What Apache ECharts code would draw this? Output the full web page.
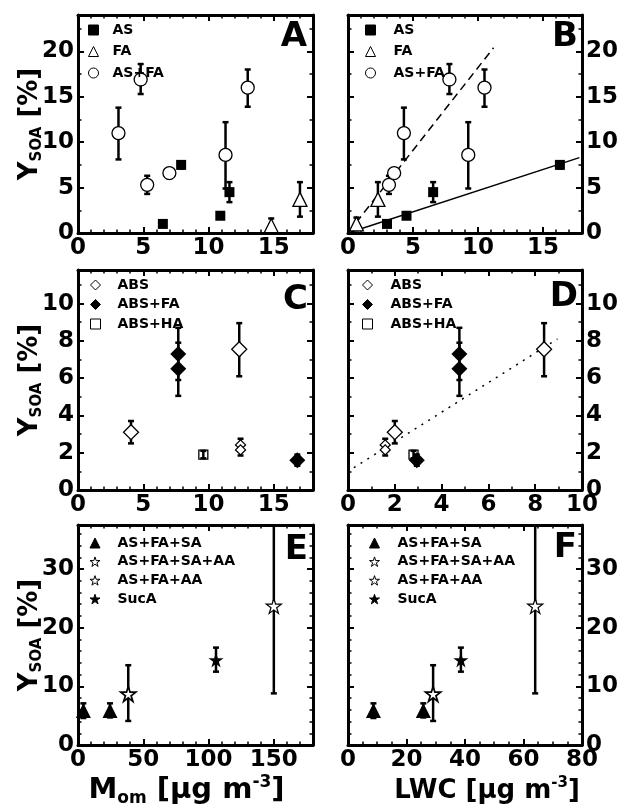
<!DOCTYPE html>
<html>
<head>
<meta charset="utf-8">
<script src="https://cdn.jsdelivr.net/npm/echarts@6/dist/echarts.min.js"></script>
<style>html,body{margin:0;padding:0;background:#fff}#chart{width:621px;height:811px}</style>
</head>
<body>
<div id="chart"></div>
<script>
// every point: [x, y, yLow, yHigh]   (y = Y_SOA in %)
// A: x = M_om
const asA = [[6.5, 1.0, 0.8, 1.2], [7.9, 7.5, 7.1, 7.9], [10.9, 1.9, 1.6, 2.2], [11.6, 4.5, 3.4, 5.6]];
const faA = [[14.8, 0.8, 0.1, 1.6], [17.0, 3.7, 1.8, 5.6]];
const asfaA = [[3.1, 11.0, 8.1, 13.8], [4.8, 16.9, 15.3, 18.6], [5.3, 5.3, 4.3, 6.3], [7.0, 6.6, 6.0, 7.1], [11.3, 8.6, 4.9, 12.2], [13.0, 16.0, 13.9, 18.0]];
// B: x = LWC
const asB = [[3.0, 1.0, 0.8, 1.2], [4.5, 1.9, 1.6, 2.2], [6.55, 4.5, 3.4, 5.6], [16.3, 7.5, 7.1, 7.9]];
const faB = [[0.65, 1.0, 0.3, 1.7], [2.3, 3.7, 1.8, 5.6]];
const asfaB = [[4.3, 11.0, 8.1, 13.8], [7.8, 16.9, 15.3, 18.6], [3.15, 5.3, 4.3, 6.3], [3.55, 6.6, 6.0, 7.1], [9.25, 8.6, 4.9, 12.2], [10.5, 16.0, 13.9, 18.0]];
const asFitB = [[0, 0], [17.8, 8.3]];
const asfaFitB = [[0, 0], [11.2, 20.4]];
// C: x = M_om
const absC = [[4.06, 3.1, 2.5, 3.7], [12.35, 7.55, 6.1, 8.95], [12.45, 2.42, 2.1, 2.75], [12.45, 2.15, 1.85, 2.45]];
const absfaC = [[7.68, 7.3, 5.9, 8.7], [7.68, 6.5, 5.05, 7.9], [16.8, 1.6, 1.3, 1.9]];
const abshaC = [[9.6, 1.9, 1.7, 2.1]];
// D: x = LWC
const absD = [[2.0, 3.1, 2.5, 3.7], [8.38, 7.55, 6.1, 8.95], [1.59, 2.42, 2.1, 2.75], [1.59, 2.15, 1.85, 2.45]];
const absfaD = [[4.76, 7.3, 5.9, 8.7], [4.76, 6.5, 5.05, 7.9], [2.94, 1.6, 1.3, 1.9]];
const abshaD = [[2.8, 1.9, 1.7, 2.1]];
const absFitD = [[0.25, 1.2], [8.95, 8.1]];
// E: x = M_om
const sasE = [[4.1, 5.9, 4.6, 7.1], [24.5, 5.9, 4.7, 7.1]];
const sasaaE = [[150, 23.7, 8.8, 38.6]];
const aaE = [[38.5, 8.7, 4.1, 13.6]];
const sucE = [[105.7, 14.5, 12.5, 16.6]];
// F: x = LWC
const sasF = [[8.7, 5.9, 4.6, 7.1], [25.75, 5.9, 4.7, 7.1]];
const sasaaF = [[64, 23.7, 8.8, 38.6]];
const aaF = [[29.1, 8.7, 4.1, 13.6]];
const sucF = [[38.6, 14.5, 12.5, 16.6]];

const legendAB = ['AS', 'FA', 'AS+FA'];
const legendCD = ['ABS', 'ABS+FA', 'ABS+HA'];
const legendEF = ['AS+FA+SA', 'AS+FA+SA+AA', 'AS+FA+AA', 'SucA'];

const font = 'DejaVu Sans';
const star = 'path://M50,0L61.2,34.6L97.6,34.5L68.1,55.9L79.4,90.5L50,69L20.6,90.5L31.9,55.9L2.4,34.5L38.8,34.6Z';

const grids = [
  {left: 78, top: 15, width: 235, height: 218},
  {left: 348, top: 15, width: 239, height: 218},
  {left: 78, top: 270, width: 235, height: 220},
  {left: 348, top: 270, width: 239, height: 220},
  {left: 78, top: 525, width: 235, height: 220},
  {left: 348, top: 525, width: 239, height: 220}
];

const lineAxis = {onZero: false, lineStyle: {color: '#000', width: 3}};
const tick = {inside: true, length: 6, lineStyle: {color: '#000', width: 2}};
const lbl = {color: '#000', fontFamily: font, fontWeight: 'bold', fontSize: 23};

function axisPair(g, min, max, interval, minor, hideMax, mainPos, otherPos) {
  const base = {
    type: 'value', gridIndex: g, min: min, max: max, interval: interval,
    axisLine: lineAxis, axisTick: tick,
    minorTick: {show: true, splitNumber: minor, length: 3.5, lineStyle: {color: '#000', width: 1.5}},
    splitLine: {show: false}
  };
  return [
    Object.assign({}, base, {position: mainPos, axisLabel: Object.assign({margin: 4, showMaxLabel: hideMax ? false : null}, lbl)}),
    Object.assign({}, base, {position: otherPos, axisLabel: {show: false}})
  ];
}

const xAxis = [].concat(
  axisPair(0, 0, 18, 5, 5, true, 'bottom', 'top'),
  axisPair(1, 0, 18, 5, 5, true, 'bottom', 'top'),
  axisPair(2, 0, 18, 5, 5, true, 'bottom', 'top'),
  axisPair(3, 0, 10, 2, 2, false, 'bottom', 'top'),
  axisPair(4, 0, 180, 50, 5, true, 'bottom', 'top'),
  axisPair(5, 0, 80, 20, 4, false, 'bottom', 'top')
);
const yAxis = [].concat(
  axisPair(0, 0, 24, 5, 2, true, 'left', 'right'),
  axisPair(1, 0, 24, 5, 2, true, 'right', 'left'),
  axisPair(2, 0, 11.8, 2, 2, true, 'left', 'right'),
  axisPair(3, 0, 11.8, 2, 2, true, 'right', 'left'),
  axisPair(4, 0, 37.5, 10, 5, true, 'left', 'right'),
  axisPair(5, 0, 37.5, 10, 5, true, 'right', 'left')
);

function rich(big, small) {
  const base = {fontFamily: font, fontWeight: 'bold', color: '#000'};
  return {
    t: Object.assign({fontSize: big, lineHeight: big + 4}, base),
    s: Object.assign({fontSize: small, lineHeight: 6, verticalAlign: 'bottom'}, base),
    o: Object.assign({fontSize: small, lineHeight: 10, verticalAlign: 'bottom'}, base),
    p: Object.assign({fontSize: small, lineHeight: big * 0.75, verticalAlign: 'top'}, base)
  };
}
[0, 2, 4].forEach(i => {
  Object.assign(yAxis[i * 2], {
    name: '{t|Y}{s|SOA}{t| [%]}', nameLocation: 'middle', nameGap: 33, nameRotate: 90,
    nameMoveOverlap: false,
    nameTextStyle: {rich: rich(26, 15)}
  });
});
Object.assign(xAxis[8], {
  name: '{t|M}{o|om}{t| [µg m}{p|-3}{t|]}', nameLocation: 'middle', nameGap: 29,
  nameTextStyle: {rich: rich(29, 17), padding: [0, 18, 0, 0]}
});
Object.assign(xAxis[10], {
  name: '{t|LWC [µg m}{p|-3}{t|]}', nameLocation: 'middle', nameGap: 31,
  nameTextStyle: {rich: rich(26, 15), padding: [0, 0, 0, 44]}
});

function pts(name, data, g, symbol, size, fill, bw) {
  return {
    name: name, type: 'scatter', xAxisIndex: g * 2, yAxisIndex: g * 2, z: 3,
    symbol: symbol, symbolSize: size,
    itemStyle: {color: fill, borderColor: '#000', borderWidth: bw, opacity: 1},
    data: data.map(d => [d[0], d[1]])
  };
}

function bars(data, g) {
  return {
    type: 'custom', xAxisIndex: g * 2, yAxisIndex: g * 2, z: 2, clip: true, silent: true,
    data: data.map(d => [d[0], d[2], d[3]]),
    renderItem: function (params, api) {
      const hi = api.coord([api.value(0), api.value(2)]);
      const lo = api.coord([api.value(0), api.value(1)]);
      const st = {stroke: '#000', lineWidth: 2.5};
      return {type: 'group', children: [
        {type: 'line', shape: {x1: hi[0], y1: hi[1], x2: lo[0], y2: lo[1]}, style: st},
        {type: 'line', shape: {x1: hi[0] - 3, y1: hi[1], x2: hi[0] + 3, y2: hi[1]}, style: st},
        {type: 'line', shape: {x1: lo[0] - 3, y1: lo[1], x2: lo[0] + 3, y2: lo[1]}, style: st}
      ]};
    }
  };
}

function fit(data, g, type) {
  return {
    type: 'line', xAxisIndex: g * 2, yAxisIndex: g * 2, z: 2, showSymbol: false, silent: true,
    lineStyle: {color: '#000', width: 1.5, type: type}, data: data
  };
}

const absSize = v => (v[1] < 2.6 ? 10 : 15);

const series = [
  bars(asA, 0), bars(faA, 0), bars(asfaA, 0),
  pts('AS', asA, 0, 'rect', 10, '#000', 0),
  pts('FA', faA, 0, 'triangle', 14, '#fff', 1.3),
  pts('AS+FA', asfaA, 0, 'circle', 13, '#fff', 1.3),

  fit(asFitB, 1, 'solid'), fit(asfaFitB, 1, [8, 5]),
  bars(asB, 1), bars(faB, 1), bars(asfaB, 1),
  pts('AS', asB, 1, 'rect', 10, '#000', 0),
  pts('FA', faB, 1, 'triangle', 14, '#fff', 1.3),
  pts('AS+FA', asfaB, 1, 'circle', 13, '#fff', 1.3),

  bars(absC, 2), bars(absfaC, 2), bars(abshaC, 2),
  pts('ABS', absC, 2, 'diamond', absSize, '#fff', 1.3),
  pts('ABS+FA', absfaC, 2, 'diamond', 16, '#000', 0),
  pts('ABS+HA', abshaC, 2, 'rect', 9, 'rgba(255,255,255,0)', 1.3),

  fit(absFitD, 3, [2, 6]),
  bars(absD, 3), bars(absfaD, 3), bars(abshaD, 3),
  pts('ABS', absD, 3, 'diamond', absSize, '#fff', 1.3),
  pts('ABS+FA', absfaD, 3, 'diamond', 16, '#000', 0),
  pts('ABS+HA', abshaD, 3, 'rect', 9, 'rgba(255,255,255,0)', 1.3),

  bars(sasE, 4), bars(sasaaE, 4), bars(aaE, 4), bars(sucE, 4),
  pts('AS+FA+SA', sasE, 4, 'triangle', 15, '#000', 0),
  pts('AS+FA+SA+AA', sasaaE, 4, star, 15, '#fff', 1.2),
  pts('AS+FA+AA', aaE, 4, star, 15, '#fff', 1.7),
  pts('SucA', sucE, 4, star, 15, '#000', 0),

  bars(sasF, 5), bars(sasaaF, 5), bars(aaF, 5), bars(sucF, 5),
  pts('AS+FA+SA', sasF, 5, 'triangle', 15, '#000', 0),
  pts('AS+FA+SA+AA', sasaaF, 5, star, 15, '#fff', 1.2),
  pts('AS+FA+AA', aaF, 5, star, 15, '#fff', 1.7),
  pts('SucA', sucF, 5, star, 15, '#000', 0)
];

function legend(names, iconX, top, textX, gap) {
  const left = iconX - 5;
  return {
    orient: 'vertical', left: left, top: top, padding: 0, itemWidth: 10, itemHeight: 10, itemGap: gap,
    selectedMode: false, data: names,
    itemStyle: {borderWidth: 1},
    textStyle: {color: '#000', fontFamily: font, fontWeight: 'bold', fontSize: 14, lineHeight: 10,
      padding: [0, 0, 0, textX - left - 15]}
  };
}

function letter(ch, x, y) {
  return {type: 'text', x: x, y: y, z: 10, style: {text: ch, fill: '#000', font: 'bold 34px "DejaVu Sans"', textAlign: 'right', textVerticalAlign: 'middle'}};
}

const chart = echarts.init(document.getElementById('chart'));
chart.setOption({
  animation: false,
  backgroundColor: '#fff',
  grid: grids,
  xAxis: xAxis,
  yAxis: yAxis,
  legend: [
    legend(legendAB, 93, 23, 112, 7.5),
    legend(legendAB, 370, 23, 393, 7.5),
    legend(legendCD, 95, 278, 117, 5.5),
    legend(legendCD, 367, 278, 390, 5.5),
    legend(legendEF, 94.5, 536, 117, 4.7),
    legend(legendEF, 374, 536, 397, 4.7)
  ],
  graphic: [
    letter('A', 307, 37), letter('B', 578, 37),
    letter('C', 308, 300), letter('D', 578, 297),
    letter('E', 308, 550), letter('F', 577, 548)
  ],
  series: series
});
</script>
</body>
</html>
